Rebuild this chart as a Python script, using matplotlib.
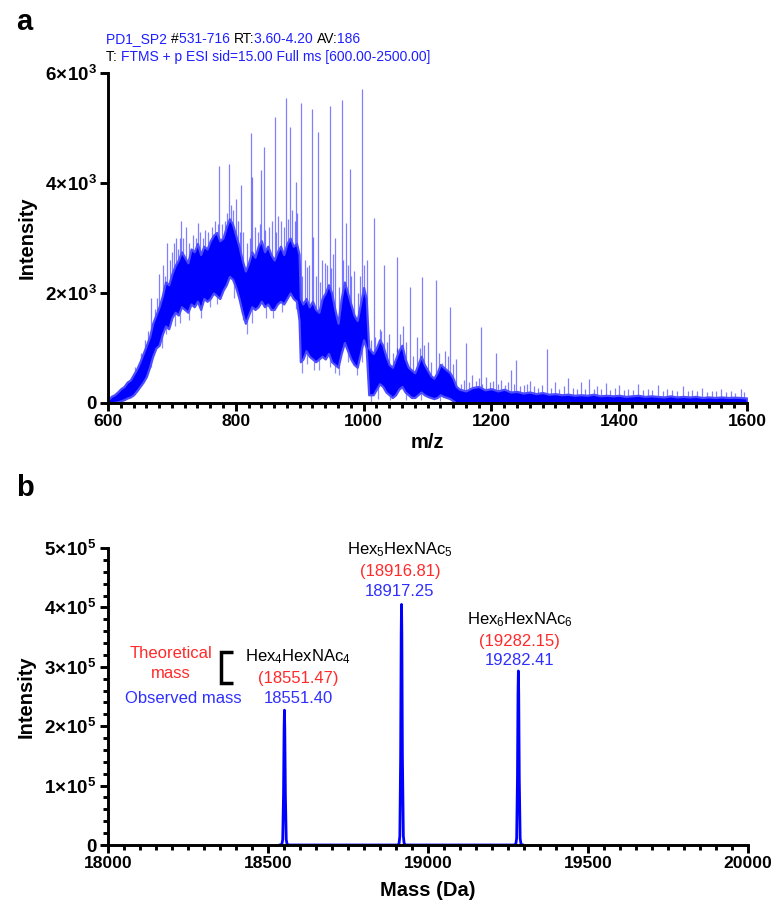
import matplotlib
matplotlib.use('Agg')
import matplotlib.pyplot as plt
from matplotlib.ticker import MultipleLocator, FixedLocator, FixedFormatter

plt.rcParams['font.family'] = ['Liberation Sans', 'DejaVu Sans']
plt.rcParams['mathtext.fontset'] = 'custom'
plt.rcParams['mathtext.rm'] = 'Liberation Sans'
plt.rcParams['mathtext.bf'] = 'Liberation Sans:bold'
plt.rcParams['mathtext.it'] = 'Liberation Sans:italic'

# ---------------- Panel a data (m/z spectrum) ----------------
# dense noisy envelope of the spectrum: m/z, upper and lower edge of the band
env_mz = [600, 605, 610, 615, 620, 625, 630, 635, 640, 645, 650, 655, 660, 665, 670, 675,
          680, 685, 690, 695, 700, 705, 710, 715, 720, 725, 730, 735, 740, 745, 750, 755,
          760, 765, 770, 775, 780, 785, 790, 795, 800, 805, 810, 815, 820, 825, 830, 835,
          840, 845, 850, 855, 860, 865, 870, 875, 880, 885, 890, 895, 899, 901, 905, 910,
          915, 920, 925, 930, 935, 940, 945, 950, 955, 960, 965, 970, 975, 980, 985, 990,
          995, 1000, 1004, 1008, 1015, 1020, 1025, 1030, 1035, 1040, 1045, 1050, 1055, 1060,
          1065, 1070, 1075, 1080, 1085, 1090, 1095, 1100, 1105, 1110, 1115, 1120, 1125, 1130,
          1135, 1140, 1145, 1150, 1160, 1170, 1180, 1190, 1200, 1210, 1220, 1230, 1240, 1250,
          1260, 1270, 1280, 1290, 1300, 1310, 1320, 1330, 1340, 1350, 1360, 1370, 1380, 1390,
          1400, 1410, 1420, 1430, 1440, 1450, 1460, 1470, 1480, 1490, 1500, 1510, 1520, 1530,
          1540, 1550, 1560, 1570, 1580, 1590, 1600]
env_hi = [60, 120, 150, 200, 260, 300, 380, 420, 520, 620, 750, 900, 1050, 1200, 1450, 1600,
          1750, 1950, 2200, 2150, 2350, 2500, 2600, 2750, 2650, 2550, 2800, 2750, 2900, 2700, 2850, 2800,
          2950, 3050, 3100, 2950, 3000, 3200, 3350, 3250, 3050, 2850, 2600, 2400, 2550, 2750, 2650, 2850,
          2950, 2750, 2850, 2700, 2600, 2750, 2850, 2700, 2900, 3000, 2850, 2900, 2700, 1900, 1800, 1900,
          1750, 1850, 1700, 1650, 1900, 2000, 2150, 2000, 1700, 1450, 1900, 2200, 2000, 1800, 1600, 1500,
          1800, 2100, 1900, 1000, 900, 1000, 1150, 1050, 850, 700, 650, 800, 950, 1050,
          800, 650, 600, 550, 700, 850, 700, 600, 500, 450, 550, 700, 650, 600,
          550, 450, 300, 250, 220, 280, 300, 240, 260, 220, 250, 200, 210, 180,
          200, 170, 190, 160, 170, 150, 160, 140, 150, 140, 160, 130, 140, 130,
          140, 120, 130, 140, 120, 130, 120, 110, 130, 110, 120, 110, 120, 100,
          110, 100, 110, 100, 105, 100, 90]
env_lo = [0, 0, 10, 20, 40, 60, 90, 110, 150, 220, 300, 380, 480, 650, 850, 1000,
          1050, 1250, 1400, 1350, 1550, 1650, 1600, 1750, 1700, 1650, 1800, 1750, 1850, 1700, 1900, 1850,
          1900, 2000, 1950, 1900, 2050, 2150, 2300, 2250, 2100, 1900, 1650, 1450, 1600, 1750, 1700, 1750,
          1850, 1750, 1800, 1700, 1700, 1800, 1850, 1800, 1900, 2000, 1900, 1850, 1500, 750, 800, 950,
          850, 800, 750, 800, 850, 800, 900, 750, 700, 650, 900, 1100, 950, 800, 700, 650,
          900, 1150, 1000, 150, 150, 250, 350, 300, 200, 150, 100, 150, 250, 300,
          200, 150, 100, 100, 150, 200, 150, 120, 100, 80, 100, 150, 120, 100,
          80, 40, 0, 0, 0, 0, 0, 0, 0, 0, 0, 0, 0, 0,
          0, 0, 0, 0, 0, 0, 0, 0, 0, 0, 0, 0, 0, 0,
          0, 0, 0, 0, 0, 0, 0, 0, 0, 0, 0, 0, 0, 0,
          0, 0, 0, 0, 0, 0, 0]

# small noise spikes poking out of the top of the band
minor_mz = [643, 652, 658, 663, 668, 673, 677, 680, 686, 689, 692, 697, 700, 703, 706, 709,
            712, 715, 718, 722, 727, 733, 737, 741, 744, 748, 752, 757, 762, 767, 772, 778,
            783, 787, 792, 795, 800, 803, 807, 812, 818, 822, 830, 834, 838, 846, 852, 856,
            863, 866, 870, 876, 882, 888, 892, 896,
            903, 908, 911, 915, 921, 925, 932, 935, 939, 943, 949, 952, 956, 962, 968, 972,
            976, 981, 985, 991, 995, 1001, 1005,
            1012, 1018, 1025, 1028, 1036, 1040, 1046, 1052, 1057, 1062, 1067, 1078, 1083, 1088,
            1094, 1100, 1106, 1118, 1122, 1127, 1132, 1140, 1145,
            1152, 1157, 1165, 1170, 1176, 1181, 1186, 1192, 1198, 1203, 1211, 1215, 1221, 1226,
            1230, 1236, 1244, 1251, 1256, 1260, 1266, 1273, 1279, 1294, 1300, 1306, 1313, 1320,
            1327, 1334, 1340, 1347, 1360, 1366, 1372, 1386, 1393, 1400, 1407, 1414, 1422, 1430,
            1437, 1445, 1452, 1460, 1468, 1475, 1483, 1490, 1500, 1507, 1514, 1522, 1530, 1537,
            1545, 1552, 1560, 1567, 1575, 1582, 1590, 1596]
minor_h = [650, 900, 1150, 1300, 1900, 1700, 1900, 2350, 2500, 2300, 2900, 2600, 2750, 2900, 3000, 2800,
           3000, 3300, 3000, 3200, 2900, 3050, 3000, 3270, 3100, 3000, 3150, 3100, 3200, 3300, 3250, 3250,
           3300, 3450, 3600, 3500, 3700, 3300, 3100, 3100, 2900, 3000, 3200, 3100, 3250, 3150, 3200, 3300,
           3100, 3400, 3300, 3200, 3350, 3500, 3300, 3450,
           2300, 2600, 2480, 2500, 3020, 2300, 2200, 2600, 2540, 2500, 2450, 2700, 3000, 2100, 2600, 3270,
           2500, 2300, 2400, 2000, 2300, 2500, 2600,
           1150, 1200, 1350, 1300, 1100, 1250, 900, 1000, 1250, 1400, 1100, 850, 1200, 1000,
           1050, 1100, 750, 900, 720, 950, 850, 700, 800,
           350, 420, 380, 500, 400, 450, 350, 480, 380, 400, 350, 420, 330, 380,
           600, 350, 300, 320, 350, 400, 300, 280, 320, 280, 380, 260, 300, 450,
           280, 260, 380, 250, 260, 300, 250, 240, 280, 320, 230, 260, 240, 350,
           240, 260, 230, 330, 220, 250, 230, 210, 300, 220, 240, 210, 280, 200,
           220, 210, 260, 200, 220, 190, 250, 200]

# light downward excursions under the band: m/z, lowest value, value inside the band
dip_mz = [668, 684, 690, 705, 713, 727, 746, 760, 771, 797, 812, 817, 826, 848, 858, 872, 894,
          904, 912, 922, 930, 947, 955, 962, 975, 989, 998, 1012, 1022, 1042, 1066, 1090, 1120]
dip_lo = [650, 1000, 1250, 1400, 1450, 1500, 1550, 1750, 1800, 1900, 1500, 1250, 1450, 1550, 1550,
          1650, 1700, 550, 700, 600, 600, 650, 550, 500, 750, 500, 750, 20, 80, 50, 60, 60, 40]
dip_top = [900, 1300, 1450, 1700, 1700, 1700, 1750, 1950, 2000, 2300, 1700, 1500, 1800, 1850, 1750,
           1900, 1900, 850, 1000, 850, 850, 950, 800, 700, 1000, 700, 1000, 200, 300, 200, 200, 250, 150]

# tall (glycoform) peaks
spike_mz = [774, 789, 808, 824, 826, 840, 844, 861, 878, 885, 894, 902, 919, 929, 947,
            966, 978, 997, 1016, 1032, 1053, 1073, 1092, 1114, 1135, 1161, 1184, 1207,
            1238, 1287, 1353, 1379]
spike_h = [4300, 4350, 3960, 4900, 4100, 4240, 4650, 5200, 5550, 5020, 4020, 5450, 5350, 4930, 5400,
           5500, 4260, 5700, 3360, 2510, 2660, 2110, 2290, 2240, 1750, 1090, 1380, 910,
           780, 980, 430, 360]

a_yticks = [0, 2000, 4000, 6000]
a_yticklabels = ['0', r'$\mathbf{2\!\times\!10^{3}}$', r'$\mathbf{4\!\times\!10^{3}}$', r'$\mathbf{6\!\times\!10^{3}}$']
a_xticks = [600, 800, 1000, 1200, 1400, 1600]

# ---------------- Panel b data (deconvoluted masses) ----------------
mass_b = [18538, 18543, 18546, 18548.5, 18550.3, 18551.4, 18552.5, 18554.3, 18557, 18560, 18565,
          18904, 18909, 18912, 18914.5, 18916.2, 18917.25, 18918.3, 18920, 18923, 18926, 18931,
          19269, 19274, 19277, 19279.5, 19281.3, 19282.41, 19283.5, 19285.3, 19288, 19291, 19296]
inten_b = [0, 0, 9000, 85000, 195000, 227000, 195000, 85000, 9000, 0, 0,
           0, 0, 15000, 150000, 355000, 405000, 355000, 150000, 15000, 0, 0,
           0, 0, 11000, 110000, 255000, 293000, 255000, 110000, 11000, 0, 0]

b_yticks = [0, 100000, 200000, 300000, 400000, 500000]
b_yticklabels = ['0'] + [r'$\mathbf{%d\!\times\!10^{5}}$' % k for k in range(1, 6)]
b_xticks = [18000, 18500, 19000, 19500, 20000]

glycans = [r'Hex$_{\mathregular{4}}$HexNAc$_{\mathregular{4}}$',
           r'Hex$_{\mathregular{5}}$HexNAc$_{\mathregular{5}}$',
           r'Hex$_{\mathregular{6}}$HexNAc$_{\mathregular{6}}$']
theo_mass = ['(18551.47)', '(18916.81)', '(19282.15)']
obs_mass = ['18551.40', '18917.25', '19282.41']
label_x = [18594, 18912, 19287]
label_y = [317000, 497000, 380000]

BLUE = '#0000ff'
TXT_BLUE = '#2f2fff'
TXT_RED = '#ff2a2a'

W, H = 773, 908
fig = plt.figure(figsize=(W / 100, H / 100), dpi=100)

XTICK_FS = 12.6
YTICK_FS = 13.5
LAB_FS = 14.5


def style_axes(ax):
    for s in ['top', 'right']:
        ax.spines[s].set_visible(False)
    for s in ['left', 'bottom']:
        ax.spines[s].set_linewidth(2.1)
    ax.tick_params(which='major', length=6, width=2.1, pad=2, direction='out')
    ax.tick_params(which='minor', length=3.5, width=2.1, direction='out')
    ax.tick_params(axis='x', labelsize=XTICK_FS)
    ax.tick_params(axis='y', labelsize=YTICK_FS)
    for lab in ax.get_xticklabels() + ax.get_yticklabels():
        lab.set_fontweight('bold')


# ---------- Panel a ----------
axa = fig.add_axes([108 / W, 1 - 403 / H, (747 - 108) / W, 330 / H])
axa.vlines(spike_mz, 0, spike_h, color=BLUE, lw=0.9, alpha=0.5, zorder=1)
axa.vlines(minor_mz, 0, minor_h, color=BLUE, lw=0.9, alpha=0.5, zorder=1)
# white mask: the noise sits on top of the band, nothing is drawn under it
axa.fill_between(env_mz, 0, env_lo, facecolor='white', lw=0, zorder=1.5)
axa.vlines(dip_mz, dip_lo, dip_top, color=BLUE, lw=0.9, alpha=0.45, zorder=1.6)
axa.fill_between(env_mz, env_lo, env_hi, facecolor=BLUE, edgecolor='#4d4dff', lw=1.6, zorder=1.8)
axa.set_xlim(600, 1600)
axa.set_ylim(0, 6000)
axa.xaxis.set_major_locator(FixedLocator(a_xticks))
axa.xaxis.set_minor_locator(MultipleLocator(20))
axa.yaxis.set_major_locator(FixedLocator(a_yticks))
axa.yaxis.set_major_formatter(FixedFormatter(a_yticklabels))
style_axes(axa)
axa.set_xlabel('m/z', fontsize=LAB_FS, fontweight='bold', labelpad=3)
axa.set_ylabel('Intensity', fontsize=LAB_FS, fontweight='bold', labelpad=6)

# ---------- Panel b ----------
axb = fig.add_axes([108 / W, 1 - 845 / H, (748 - 108) / W, 297 / H])
axb.plot(mass_b, inten_b, color=BLUE, lw=2.0)
axb.set_xlim(18000, 20000)
axb.set_ylim(0, 500000)
axb.xaxis.set_major_locator(FixedLocator(b_xticks))
axb.xaxis.set_minor_locator(MultipleLocator(50))
axb.yaxis.set_major_locator(FixedLocator(b_yticks))
axb.yaxis.set_major_formatter(FixedFormatter(b_yticklabels))
axb.yaxis.set_minor_locator(MultipleLocator(20000))
style_axes(axb)
axb.set_xlabel('Mass (Da)', fontsize=LAB_FS, fontweight='bold', labelpad=7)
axb.set_ylabel('Intensity', fontsize=LAB_FS, fontweight='bold', labelpad=6)

ANN_FS = 12
for g, t, o, lx, ly in zip(glycans, theo_mass, obs_mass, label_x, label_y):
    axb.text(lx, ly, g, ha='center', va='center', fontsize=ANN_FS, color='black')
    axb.text(lx, ly - 37000, t, ha='center', va='center', fontsize=ANN_FS, color=TXT_RED)
    axb.text(lx, ly - 70000, o, ha='center', va='center', fontsize=ANN_FS, color=TXT_BLUE)

axb.text(18197, 322000, 'Theoretical', ha='center', va='center', fontsize=ANN_FS, color=TXT_RED)
axb.text(18197, 289000, 'mass', ha='center', va='center', fontsize=ANN_FS, color=TXT_RED)
axb.text(18236, 246000, 'Observed mass', ha='center', va='center', fontsize=ANN_FS, color=TXT_BLUE)
axb.plot([18392, 18352, 18352, 18392], [325000, 325000, 273000, 273000], color='black', lw=2.5,
         solid_capstyle='butt', solid_joinstyle='miter', clip_on=False)

# ---------- Header & panel letters ----------
fig.canvas.draw()
renderer = fig.canvas.get_renderer()


def multicolor(xpix, ypix, pieces, size):
    for s, c in pieces:
        t = fig.text(xpix / W, 1 - ypix / H, s, color=c, fontsize=size, ha='left', va='center')
        bb = t.get_window_extent(renderer)
        xpix += bb.width


HB = '#1f1fff'
multicolor(106, 39, [('PD1_SP2 ', HB), ('#', 'black'), ('531-716 ', HB), ('RT:', 'black'),
                     ('3.60-4.20 ', HB), ('AV:', 'black'), ('186', HB)], 10)
multicolor(106, 57, [('T: ', 'black'), ('FTMS + p ESI sid=15.00 Full ms [600.00-2500.00]', HB)], 10)

fig.text(16 / W, 1 - 22 / H, 'a', fontsize=21, fontweight='bold', ha='left', va='center')
fig.text(16 / W, 1 - 488 / H, 'b', fontsize=21, fontweight='bold', ha='left', va='center')

fig.savefig('out.png', dpi=100)
